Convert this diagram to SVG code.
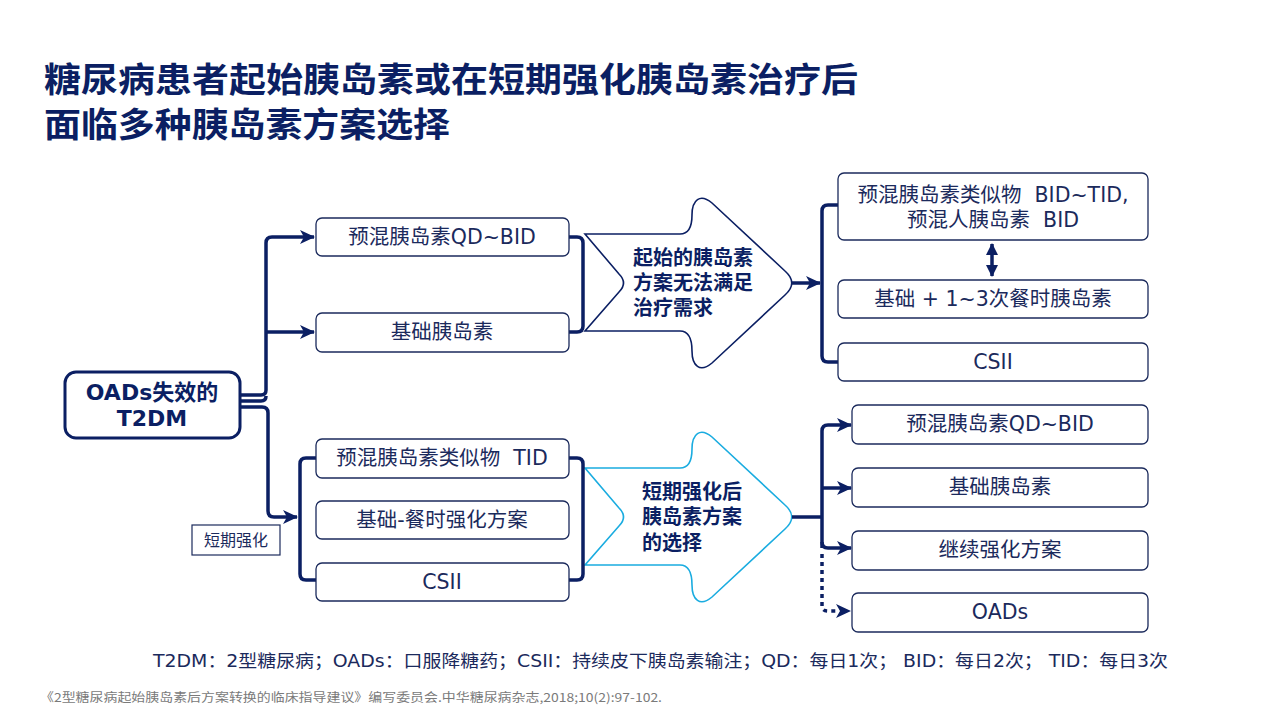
<svg xmlns="http://www.w3.org/2000/svg" width="1280" height="720" viewBox="0 0 1280 720">
<defs>
<marker id="ah" markerUnits="userSpaceOnUse" markerWidth="16" markerHeight="14" refX="14" refY="7" orient="auto">
<path d="M0,0 L15,7 L0,14 L4,7 Z" fill="#0b1f63"/>
</marker>
<marker id="ah2" markerUnits="userSpaceOnUse" markerWidth="12" markerHeight="14" refX="11" refY="6" orient="auto-start-reverse">
<path d="M0,0 L12,6 L0,12 Z" fill="#0b1f63"/>
</marker>
</defs>
<style>
.box{fill:#fff;stroke:#1b2a5c;stroke-width:1.3}
.t{font-family:"DejaVu Sans","Noto Sans CJK SC",sans-serif;font-size:20.5px;fill:#1b2a5c;text-anchor:middle;white-space:pre}
.b{font-family:"Noto Sans CJK SC",sans-serif;font-size:20px;font-weight:bold;fill:#0b1f63}
.c{fill:none;stroke:#0b1f63;stroke-width:3.5;stroke-linejoin:round}
.big{fill:#fff;stroke-width:1.6}
</style>
<rect width="1280" height="720" fill="#fff"/>
<g id="title" font-family="Noto Sans CJK SC, sans-serif" font-size="34" font-weight="bold" fill="#0b1f63">
<text x="44" y="92" textLength="814" lengthAdjust="spacingAndGlyphs">糖尿病患者起始胰岛素或在短期强化胰岛素治疗后</text>
<text x="44" y="137" textLength="406" lengthAdjust="spacingAndGlyphs">面临多种胰岛素方案选择</text>
</g>
<g id="arrow-top">
<path class="big" stroke="#0b1f63" d="M585,234 H680 C689,234 692,226 692,215 C692,200 700,193 712,203 L785,271 C794,279 794,287 785,295 L712,363 C700,373 692,366 692,351 C692,340 689,331 680,331 H585 L619,292 C625,286 625,280 619,274 Z"/>
<text class="b" x="633" y="265">起始的胰岛素</text>
<text class="b" x="633" y="290">方案无法满足</text>
<text class="b" x="633" y="315">治疗需求</text>
</g>
<g id="arrow-bottom">
<path class="big" stroke="#1aace0" d="M585,468 H680 C689,468 692,460 692,449 C692,434 700,427 712,437 L785,505 C794,513 794,521 785,529 L712,597 C700,607 692,600 692,585 C692,574 689,565 680,565 H585 L619,526 C625,520 625,514 619,508 Z"/>
<text class="b" x="642" y="499">短期强化后</text>
<text class="b" x="642" y="524">胰岛素方案</text>
<text class="b" x="642" y="550">的选择</text>
</g>
<g id="connectors">
<path class="c" d="M240,395 H261 Q266,395 266,390 V243 Q266,237 272,237 H314" marker-end="url(#ah)"/>
<path class="c" d="M266,332 H314" marker-end="url(#ah)"/>
<path class="c" d="M240,401 H261 Q266,401 266,396"/>
<path class="c" d="M240,407 H262 Q268,407 268,413 V511 Q268,517 274,517 H297" marker-end="url(#ah)"/>
<path class="c" d="M316,458 H306 Q300,458 300,464 V574 Q300,580 306,580 H316"/>
<path class="c" d="M569,237 H577 Q583,237 583,243 V326 Q583,332 577,332 H569"/>
<path class="c" d="M569,458 H577 Q583,458 583,464 V574 Q583,580 577,580 H569"/>
<path class="c" d="M792,283 H820" marker-end="url(#ah)"/>
<path class="c" d="M838,205 H828 Q822,205 822,211 V356 Q822,362 828,362 H838"/>
<path class="c" stroke-width="2.8" d="M992,244 V276" marker-start="url(#ah2)" marker-end="url(#ah2)"/>
<path class="c" d="M792,517 H822"/>
<path class="c" d="M822,548 V431 Q822,425 828,425 H851" marker-end="url(#ah)"/>
<path class="c" d="M822,488 H851" marker-end="url(#ah)"/>
<path class="c" d="M822,542 Q822,548 828,548 H851" marker-end="url(#ah)"/>
<path class="c" stroke-dasharray="4,4" d="M822,554 V606 Q822,611 828,611 H836"/>
<path d="M836,604 L851,611 L836,618 L840,611 Z" fill="#0b1f63"/>
</g>
<g id="n-oads">
<rect x="65" y="372" width="175" height="66" rx="11" fill="#fff" stroke="#0b1f63" stroke-width="3"/>
<text class="b" x="152" y="400" text-anchor="middle" style="font-size:22px;font-family:'DejaVu Sans','Noto Sans CJK SC',sans-serif">OADs失效的</text>
<text class="b" x="152" y="426" text-anchor="middle" style="font-size:22px;font-family:'DejaVu Sans','Noto Sans CJK SC',sans-serif">T2DM</text>
</g>
<g id="n-premix1"><rect class="box" x="316" y="218" width="253" height="38" rx="6"/><text class="t" x="442" y="244">预混胰岛素QD~BID</text></g>
<g id="n-basal1"><rect class="box" x="316" y="313" width="253" height="39" rx="6"/><text class="t" x="442" y="339">基础胰岛素</text></g>
<g id="n-analog-tid"><rect class="box" x="316" y="439" width="253" height="39" rx="6"/><text class="t" x="442" y="465">预混胰岛素类似物  TID</text></g>
<g id="n-basal-bolus"><rect class="box" x="316" y="501" width="253" height="38" rx="6"/><text class="t" x="442" y="527">基础-餐时强化方案</text></g>
<g id="n-csii1"><rect class="box" x="316" y="563" width="253" height="38" rx="6"/><text class="t" x="442" y="589">CSII</text></g>
<g id="n-short"><rect x="192" y="525" width="88" height="30" fill="#fff" stroke="#1b2a5c" stroke-width="1.2"/><text class="t" x="236" y="546" style="font-size:16px">短期强化</text></g>
<g id="n-right-a"><rect class="box" x="838" y="173" width="310" height="67" rx="6"/><text class="t" x="993" y="202">预混胰岛素类似物  BID~TID,</text><text class="t" x="993" y="227">预混人胰岛素  BID</text></g>
<g id="n-right-b"><rect class="box" x="838" y="280" width="310" height="38" rx="6"/><text class="t" x="993" y="306">基础 + 1~3次餐时胰岛素</text></g>
<g id="n-right-c"><rect class="box" x="838" y="343" width="310" height="38" rx="6"/><text class="t" x="993" y="369">CSII</text></g>
<g id="n-right-d"><rect class="box" x="852" y="405" width="296" height="39" rx="6"/><text class="t" x="1000" y="431">预混胰岛素QD~BID</text></g>
<g id="n-right-e"><rect class="box" x="852" y="468" width="296" height="39" rx="6"/><text class="t" x="1000" y="494">基础胰岛素</text></g>
<g id="n-right-f"><rect class="box" x="852" y="531" width="296" height="39" rx="6"/><text class="t" x="1000" y="557">继续强化方案</text></g>
<g id="n-right-g"><rect class="box" x="852" y="593" width="296" height="39" rx="6"/><text class="t" x="1000" y="619">OADs</text></g>
<g id="legend">
<text x="153" y="667" font-family="DejaVu Sans, Noto Sans CJK SC, sans-serif" font-size="17" fill="#1b2a5c" textLength="1015" lengthAdjust="spacingAndGlyphs">T2DM：2型糖尿病；OADs：口服降糖药；CSII：持续皮下胰岛素输注；QD：每日1次； BID：每日2次； TID：每日3次</text>
<text x="40" y="702" font-family="Noto Sans CJK SC, sans-serif" font-size="12" fill="#7a7a7a" textLength="622" lengthAdjust="spacingAndGlyphs">《2型糖尿病起始胰岛素后方案转换的临床指导建议》编写委员会.中华糖尿病杂志,2018;10(2):97-102.</text>
</g>
</svg>
